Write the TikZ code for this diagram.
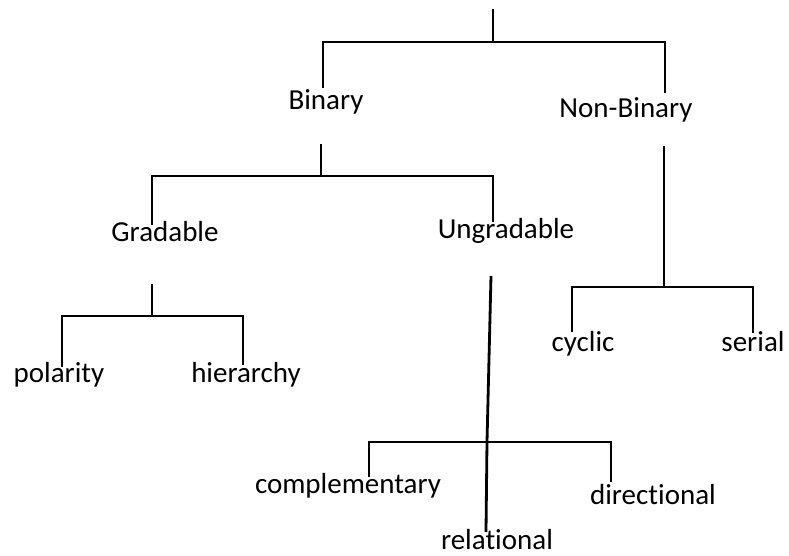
\documentclass[tikz,border=0pt]{standalone}
\usepackage{fontspec}
\setmainfont{Carlito}[Ligatures=NoCommon]
\usetikzlibrary{positioning}

\tikzset{
  term/.style={anchor=base, inner sep=0pt, font=\fontsize{14.5}{16}\selectfont},
  branch/.style={line width=1.4pt}
}

\begin{document}
\begin{tikzpicture}[x=0.5pt, y=-0.5pt]
        \useasboundingbox (0,0) rectangle (789,556);
        % labels
        \node[term] (binary) at (326,110) {Binary};
        \node[term] (nonbinary) at (626,118) {Non-Binary};
        \node[term] (gradable) at (165,242) {Gradable};
        \node[term] (ungradable) at (506,239) {Ungradable};
        \node[term] (polarity) at (59,383) {polarity};
        \node[term] (hierarchy) at (246,383) {hierarchy};
        \node[term] (cyclic) at (583,352) {cyclic};
        \node[term] (serial) at (753,352) {serial};
        \node[term] (complementary) at (348,494) {complementary};
        \node[term] (directional) at (653,504) {directional};
        \node[term] (relational) at (497,550) {relational};
        % top level
        \coordinate (top) at (493,9);
        \coordinate (f0) at (493,42);
        \coordinate (binleg) at (323,88);
        \coordinate (nbleg) at (665,93);
        \draw[branch] (top) -- (f0) -| (binleg);
        \draw[branch] (f0) -| (nbleg);
        % binary
        \coordinate (binstem) at (321,144);
        \coordinate (f1) at (321,176);
        \coordinate (gradleg) at (152,225);
        \coordinate (ungradleg) at (493,222);
        \draw[branch] (binstem) -- (f1) -| (gradleg);
        \draw[branch] (f1) -| (ungradleg);
        % non-binary
        \coordinate (nbstem) at (664,146);
        \coordinate (f2) at (664,287);
        \coordinate (cycleg) at (572,332);
        \coordinate (serleg) at (753,333);
        \draw[branch] (nbstem) -- (f2) -| (cycleg);
        \draw[branch] (f2) -| (serleg);
        % gradable
        \coordinate (gradstem) at (152,284);
        \coordinate (f3) at (152,316);
        \coordinate (polleg) at (62,367);
        \coordinate (hierleg) at (243,365);
        \draw[branch] (gradstem) -- (f3) -| (polleg);
        \draw[branch] (f3) -| (hierleg);
        % ungradable
        \coordinate (ungradstem) at (491,276);
        \coordinate (f4) at (487,442);
        \coordinate (relleg) at (486,532);
        \coordinate (compleg) at (369,477);
        \coordinate (dirleg) at (611,482);
        \draw[branch] (ungradstem) -- (f4) -- (relleg);
        \draw[branch] (f4) -| (compleg);
        \draw[branch] (f4) -| (dirleg);
\end{tikzpicture}
\end{document}
